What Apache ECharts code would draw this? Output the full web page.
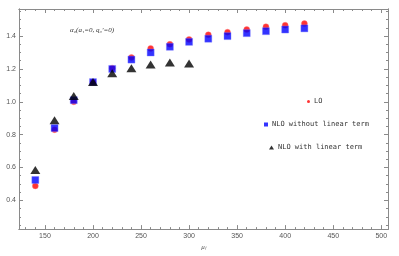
<!DOCTYPE html>
<html><head><meta charset="utf-8">
<script src="https://cdn.jsdelivr.net/npm/echarts@6/dist/echarts.min.js"></script>
<style>html,body{margin:0;padding:0;background:#fff}#c{width:399px;height:256px}</style>
</head><body><div id="c"></div>
<script>
const muValues = [140,160,180,200,220,240,260,280,300,320,340,360,380,400,420];
const loValues = [0.488,0.83,1.0,1.12,1.205,1.27,1.325,1.35,1.38,1.408,1.424,1.44,1.457,1.466,1.476];
const nloValues = [0.524,0.84,1.01,1.12,1.2,1.257,1.30,1.335,1.365,1.384,1.40,1.418,1.43,1.44,1.447];
const muLinear = [140,160,180,200,220,240,260,280,300];
const nloLinearValues = [0.585,0.888,1.035,1.12,1.174,1.204,1.227,1.239,1.233];
const xMajorTicks = [150,200,250,300,350,400,450,500];
const yMajorTicks = [0.4,0.6,0.8,1.0,1.2,1.4];
const seriesNames = ['LO','NLO without linear term','NLO with linear term'];
const annotation = 'α₀(a₁=0, q₀′=0)';
const xName = 'μₗ';

const xMin = 123, xMax = 507, yMin = 0.225, yMax = 1.565;
const xMinor = []; for (let v = 130; v <= 500; v += 10) if (v % 50) xMinor.push(v);
const yMinor = []; for (let k = 5; k <= 31; k++) { const v = k * 0.05; if (k % 4) yMinor.push(+v.toFixed(2)); }

const frame = '#8a8a8a';
function xa(pos, ticks, len, labels, extra) {
  return Object.assign({
    type: 'value', position: pos, min: xMin, max: xMax,
    axisLine: { show: true, onZero: false, lineStyle: { color: frame, width: 1 } },
    axisTick: { show: true, inside: true, length: len, customValues: ticks, lineStyle: { color: frame } },
    axisLabel: labels ? { show: true, customValues: ticks, fontSize: 7, color: '#555', margin: 3, fontFamily: 'Liberation Sans' } : { show: false },
    splitLine: { show: false }
  }, extra || {});
}
function ya(pos, ticks, len, labels) {
  return {
    type: 'value', position: pos, min: yMin, max: yMax,
    axisLine: { show: true, onZero: false, lineStyle: { color: frame, width: 1 } },
    axisTick: { show: true, inside: true, length: len, customValues: ticks, lineStyle: { color: frame } },
    axisLabel: labels ? { show: true, customValues: ticks, fontSize: 7, color: '#555', margin: 3, fontFamily: 'Liberation Sans', formatter: v => v.toFixed(1) } : { show: false },
    splitLine: { show: false }
  };
}
const legendText = { fontSize: 7, fontFamily: 'DejaVu Sans Mono', color: '#333', padding: [0, 0, 0, -1] };

const chart = echarts.init(document.getElementById('c'), null, { renderer: 'canvas' });
chart.setOption({
  animation: false,
  backgroundColor: '#fff',
  grid: { left: 19, right: 11, top: 9, bottom: 19, containLabel: false },
  xAxis: [
    xa('bottom', xMajorTicks, 4, true, { name: xName, nameLocation: 'middle', nameGap: 14, nameTextStyle: { fontSize: 7, color: '#555', fontStyle: 'italic', fontFamily: 'Liberation Serif' } }),
    xa('bottom', xMinor, 2, false),
    xa('top', xMajorTicks, 4, false),
    xa('top', xMinor, 2, false)
  ],
  yAxis: [
    ya('left', yMajorTicks, 4, true),
    ya('left', yMinor, 2, false),
    ya('right', yMajorTicks, 4, false),
    ya('right', yMinor, 2, false)
  ],
  legend: [
    { data: [{ name: seriesNames[0], icon: 'circle', itemStyle: { borderWidth: 0 } }], left: 307, top: 98, itemWidth: 3, itemHeight: 3, itemGap: 0, padding: 0, textStyle: legendText },
    { data: [{ name: seriesNames[1], icon: 'rect', itemStyle: { borderWidth: 0 } }], left: 264, top: 121, itemWidth: 4, itemHeight: 4, itemGap: 0, padding: 0, textStyle: legendText },
    { data: [{ name: seriesNames[2], icon: 'triangle', itemStyle: { borderWidth: 0 } }], left: 269, top: 144, itemWidth: 5, itemHeight: 4, itemGap: 0, padding: 0, textStyle: legendText }
  ],
  graphic: [
    { type: 'text', left: 70, top: 27, style: { text: annotation, fontSize: 7, fontStyle: 'italic', fontFamily: 'Liberation Serif', fill: '#333' } }
  ],
  series: [
    { name: seriesNames[0], type: 'scatter', symbol: 'circle', symbolSize: 6,
      itemStyle: { color: '#ff0000', borderColor: 'rgba(255,120,120,0.6)', borderWidth: 0.8 },
      data: muValues.map((m, i) => [m, loValues[i]]) },
    { name: seriesNames[1], type: 'scatter', symbol: 'rect', symbolSize: 7,
      itemStyle: { color: '#0000ff', borderColor: 'rgba(120,120,255,0.6)', borderWidth: 0.8 },
      data: muValues.map((m, i) => [m, nloValues[i]]) },
    { name: seriesNames[2], type: 'scatter', symbol: 'triangle', symbolSize: [10, 8],
      itemStyle: { color: '#000000' },
      data: muLinear.map((m, i) => [m, nloLinearValues[i]]) }
  ]
});
</script></body></html>
